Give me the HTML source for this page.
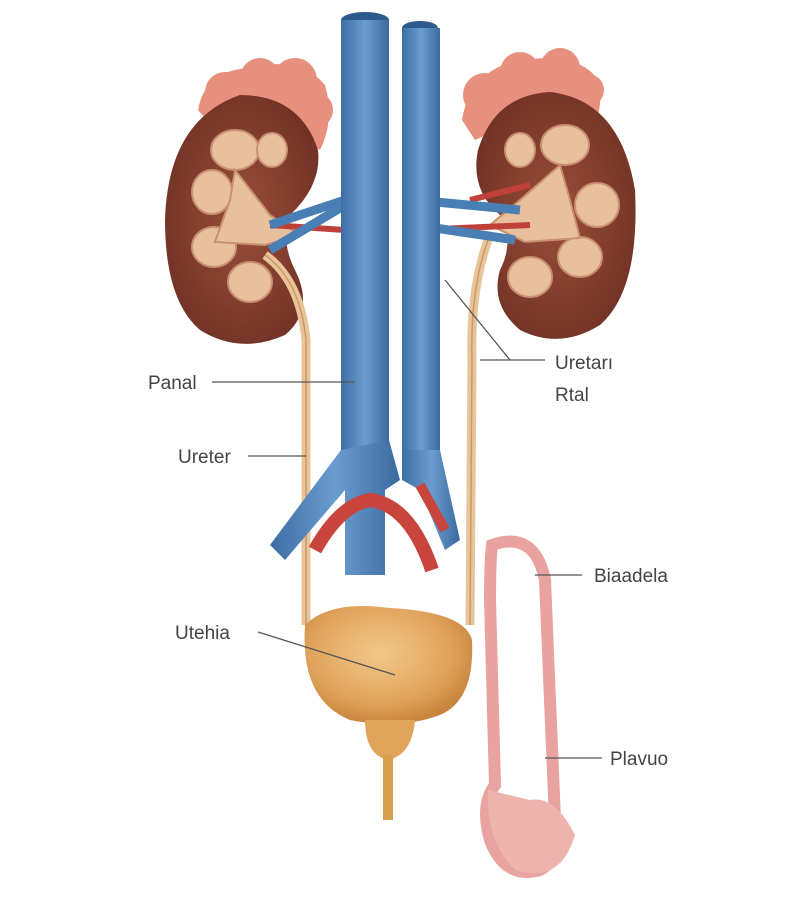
<!DOCTYPE html>
<html><head><meta charset="utf-8"><style>
html,body{margin:0;padding:0;background:#fff;}
svg{display:block}
text{font-family:"Liberation Sans",sans-serif;font-size:19px;fill:#444;}
</style></head><body>
<svg width="800" height="904" viewBox="0 0 800 904" xmlns="http://www.w3.org/2000/svg">
<defs>
<linearGradient id="blue" x1="0" x2="1"><stop offset="0" stop-color="#3d6ea3"/><stop offset="0.5" stop-color="#6b9cd0"/><stop offset="1" stop-color="#3a6a9e"/></linearGradient>
<radialGradient id="bl" cx="0.45" cy="0.4" r="0.6"><stop offset="0" stop-color="#f2c88a"/><stop offset="0.7" stop-color="#e0a35c"/><stop offset="1" stop-color="#c98540"/></radialGradient>
<radialGradient id="kid" cx="0.5" cy="0.5" r="0.6"><stop offset="0" stop-color="#9a4e3a"/><stop offset="1" stop-color="#6e3024"/></radialGradient>
</defs>
<!-- adrenals -->
<g fill="#e8907e">
<path d="M198,110 Q205,70 250,68 Q300,55 325,85 Q335,120 320,150 Q270,115 215,130 Z"/>
<circle cx="225" cy="92" r="20"/><circle cx="260" cy="78" r="20"/><circle cx="295" cy="80" r="22"/><circle cx="315" cy="110" r="18"/>
<path d="M462,120 Q470,70 520,60 Q580,52 598,80 Q605,110 590,130 Q540,110 475,140 Z"/>
<circle cx="485" cy="95" r="22"/><circle cx="520" cy="72" r="20"/><circle cx="560" cy="68" r="20"/><circle cx="588" cy="90" r="16"/>
</g>
<!-- kidneys -->
<path d="M240,95 Q300,95 318,150 Q322,185 290,215 Q280,240 295,270 Q315,310 285,335 Q240,355 200,330 Q165,300 165,220 Q168,120 240,95 Z" fill="url(#kid)"/>
<path d="M550,92 Q620,100 635,190 Q640,290 600,325 Q560,350 520,330 Q490,305 500,270 Q515,240 500,215 Q470,190 478,150 Q495,95 550,92 Z" fill="url(#kid)"/>
<!-- calyces -->
<g fill="#e8c09c" stroke="#c89070" stroke-width="2">
<ellipse cx="235" cy="150" rx="24" ry="20"/><ellipse cx="212" cy="192" rx="20" ry="22"/><ellipse cx="214" cy="247" rx="22" ry="20"/><ellipse cx="250" cy="282" rx="22" ry="20"/><ellipse cx="272" cy="150" rx="15" ry="17"/>
<path d="M235,170 L270,215 L300,235 L265,245 L215,242 L230,200 Z"/>
<ellipse cx="565" cy="145" rx="24" ry="20"/><ellipse cx="597" cy="205" rx="22" ry="22"/><ellipse cx="580" cy="257" rx="22" ry="20"/><ellipse cx="530" cy="277" rx="22" ry="20"/><ellipse cx="520" cy="150" rx="15" ry="17"/>
<path d="M560,165 L520,200 L490,225 L525,242 L580,238 L570,200 Z"/>
</g>
<!-- red renal vessels -->
<path d="M270,225 L345,230 M415,230 L530,225 M470,200 L530,185" stroke="#c0413a" stroke-width="6" fill="none"/>
<!-- ureters -->
<path d="M265,255 Q300,280 306,340 L306,625" stroke="#e8c49a" stroke-width="9" fill="none"/>
<path d="M265,255 Q300,280 306,340 L306,625" stroke="#c89a68" stroke-width="1.5" fill="none"/>
<path d="M488,240 Q470,290 472,360 L470,625" stroke="#e8c49a" stroke-width="9" fill="none"/>
<path d="M488,240 Q470,290 472,360 L470,625" stroke="#c89a68" stroke-width="1.5" fill="none"/>
<!-- blue vessels -->
<path d="M270,250 L345,205 M270,225 L345,200" stroke="#4a7fb5" stroke-width="9" fill="none"/>
<path d="M415,200 L520,210 M415,225 L515,240" stroke="#4a7fb5" stroke-width="9" fill="none"/>
<ellipse cx="365" cy="20" rx="24" ry="8" fill="#2d5a8a"/>
<rect x="341" y="20" width="48" height="440" fill="url(#blue)"/>
<path d="M341,450 L270,545 L285,560 L345,490 L345,575 L385,575 L385,490 L400,480 L389,440 Z" fill="url(#blue)"/>
<ellipse cx="420" cy="28" rx="18" ry="7" fill="#2d5a8a"/>
<rect x="402" y="28" width="38" height="430" fill="url(#blue)"/>
<path d="M402,450 L440,450 L460,540 L445,550 L420,490 L402,480 Z" fill="url(#blue)"/>
<!-- red iliacs -->
<path d="M315,550 Q340,505 370,500 Q410,505 432,570" stroke="#c8443c" stroke-width="14" fill="none"/>
<path d="M420,485 L445,530" stroke="#c8443c" stroke-width="10"/>
<!-- bladder -->
<path d="M305,625 Q330,600 390,608 Q465,612 472,640 Q475,700 440,715 Q400,730 350,720 Q300,700 305,625 Z" fill="url(#bl)"/>
<path d="M365,720 Q365,755 388,760 Q412,755 415,720 Z" fill="#e0a35c"/>
<rect x="383" y="755" width="10" height="65" fill="#d9a050"/>
<!-- pink tube -->
<path d="M492,545 Q535,530 545,580 L555,820 Q560,860 540,870 Q505,880 490,840 Q480,805 495,785 L490,600 Q490,560 492,545 Z" fill="none" stroke="#e8a2a0" stroke-width="12"/>
<path d="M488,790 Q485,840 515,870 Q560,885 575,835 Q555,795 530,800 Z" fill="#efb3ad"/>
<!-- labels -->
<g stroke="#555" stroke-width="1.3">
<line x1="212" y1="382" x2="355" y2="382"/>
<line x1="248" y1="456" x2="306" y2="456"/>
<line x1="258" y1="632" x2="395" y2="675"/>
<line x1="480" y1="360" x2="545" y2="360"/>
<line x1="445" y1="280" x2="510" y2="360"/>
<line x1="535" y1="575" x2="582" y2="575"/>
<line x1="545" y1="758" x2="602" y2="758"/>
</g>
<text x="148" y="389">Panal</text>
<text x="178" y="463">Ureter</text>
<text x="175" y="639">Utehia</text>
<text x="555" y="369">Uretarı</text>
<text x="555" y="401">Rtal</text>
<text x="594" y="582">Biaadela</text>
<text x="610" y="765">Plavuo</text>
</svg>
</body></html>
